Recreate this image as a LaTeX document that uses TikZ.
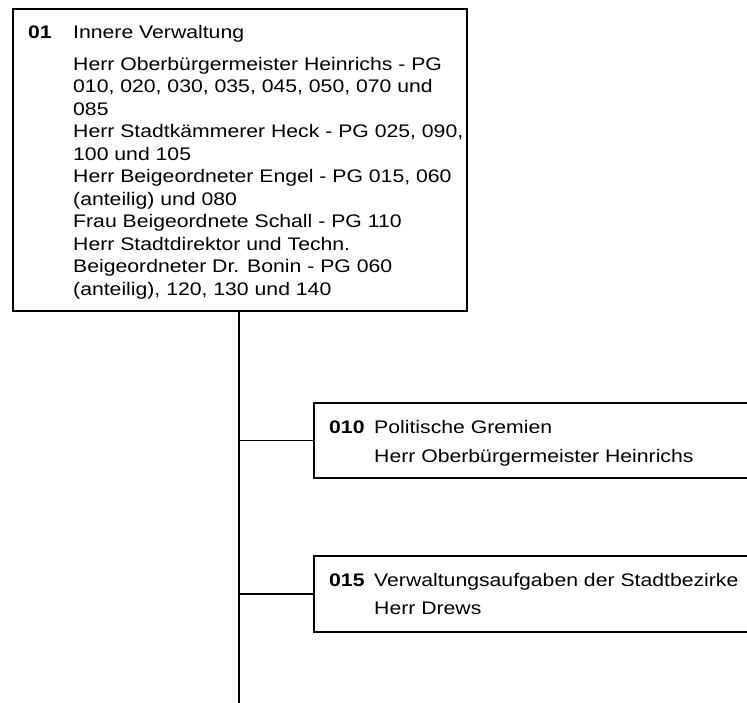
\documentclass[tikz,border=0pt]{standalone}
\usepackage{fontspec}
\setmainfont[FakeStretch=1.165]{Liberation Sans}
\begin{document}
\begin{tikzpicture}[x=1pt,y=-1pt,
  unitbox/.style={draw,line width=1.7pt,rectangle,inner sep=0pt,anchor=north west},
  txt/.style={anchor=base west,inner sep=0pt,font=\fontsize{18.2}{22}\selectfont},
  num/.style={txt,font=\fontsize{18.2}{22}\selectfont\bfseries},
  link/.style={line width=1.7pt,line cap=rect}]
\useasboundingbox (0,0) rectangle (747,702);
\clip (0,0) rectangle (747,702);

% main unit
\node[unitbox,minimum width=454pt,minimum height=302pt] (box01) at (12,8) {};
\node[num] (n01) at (28,38) {01};
\node[txt] (t01) at (73,38) {Innere Verwaltung};
\foreach \txtline [count=\k from 0] in {
  Herr Oberbürgermeister Heinrichs - PG,
  {010, 020, 030, 035, 045, 050, 070 und},
  085,
  {Herr Stadtkämmerer Heck - PG 025, 090,},
  100 und 105,
  {Herr Beigeordneter Engel - PG 015, 060},
  (anteilig) und 080,
  Frau Beigeordnete Schall - PG 110,
  Herr Stadtdirektor und Techn.,
  Beigeordneter Dr. Bonin - PG 060,
  {(anteilig), 120, 130 und 140}}
  \node[txt] (l\k) at (73,70+22.5*\k) {\txtline};

% sub units
\node[unitbox,minimum width=460pt,minimum height=75pt] (box010) at (313,402) {};
\node[num] (n010) at (329,433) {010};
\node[txt] (t010a) at (374,433) {Politische Gremien};
\node[txt] (t010b) at (374,462) {Herr Oberbürgermeister Heinrichs};

\node[unitbox,minimum width=460pt,minimum height=76pt] (box015) at (313,555) {};
\node[num] (n015) at (329,586) {015};
\node[txt] (t015a) at (374,586) {Verwaltungsaufgaben der Stadtbezirke};
\node[txt] (t015b) at (374,614) {Herr Drews};

% connectors
\coordinate (trunkend) at (239,710);
\draw[link] (box01.south -| trunkend) -- (trunkend);
\draw[link] (box010.west -| trunkend) -- (box010.west);
\draw[link] (box015.west -| trunkend) -- (box015.west);
\end{tikzpicture}
\end{document}
